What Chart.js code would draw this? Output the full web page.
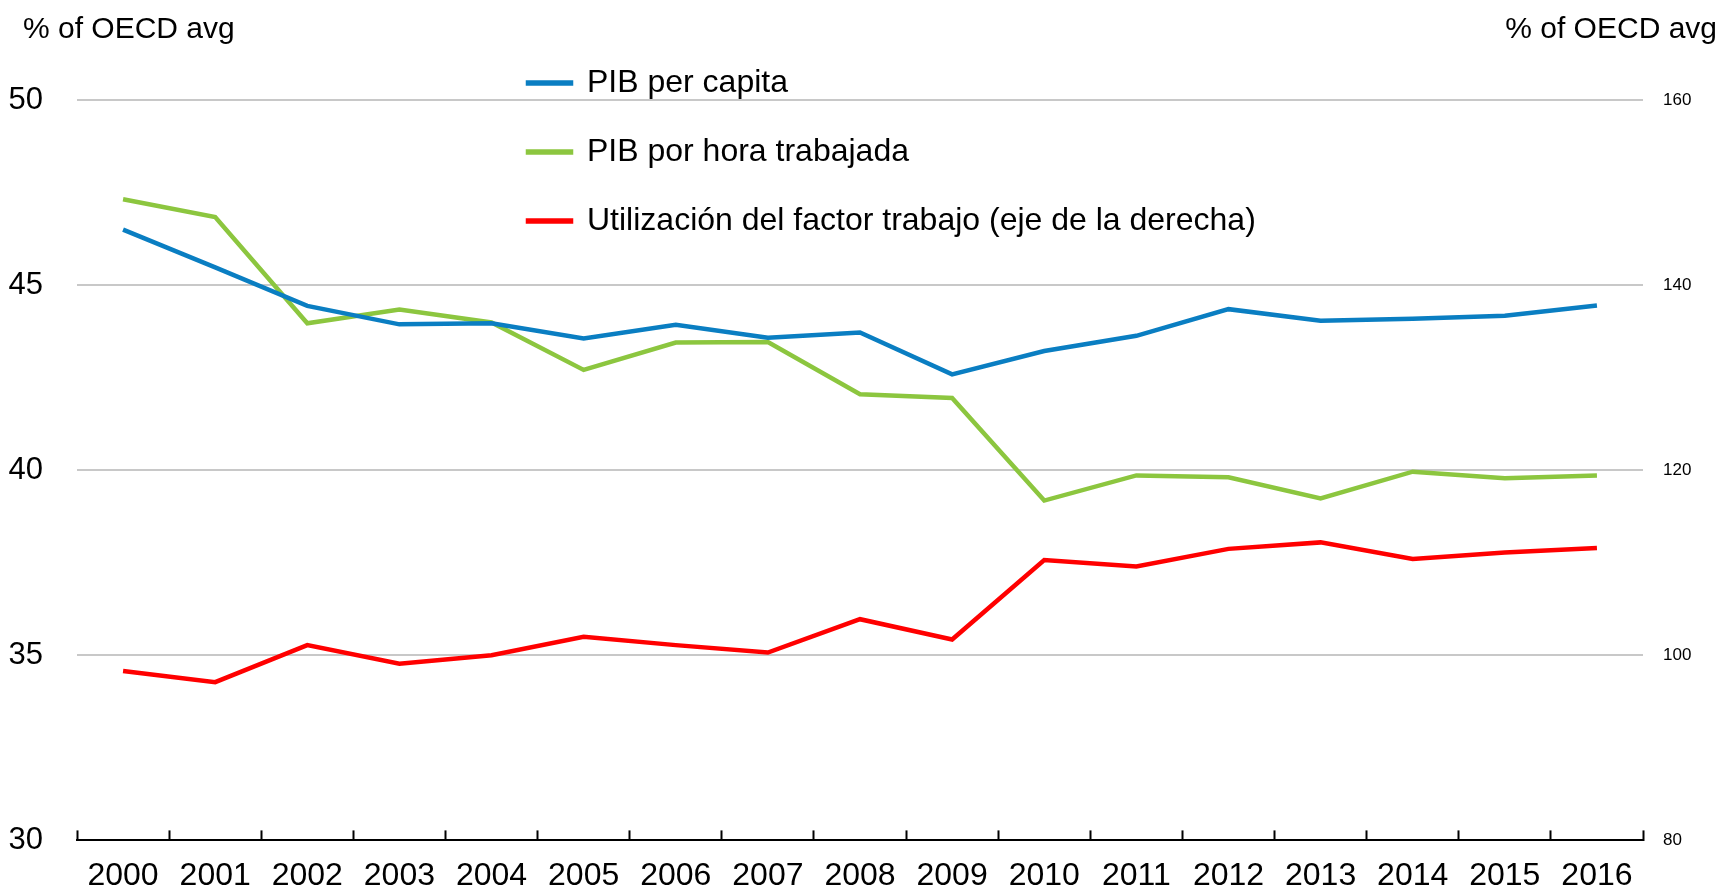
<!DOCTYPE html>
<html>
<head>
<meta charset="utf-8">
<script src="https://cdn.jsdelivr.net/npm/chart.js@4.4.1/dist/chart.umd.min.js"></script>
<style>
  html, body { margin: 0; padding: 0; background: #fff; }
  #wrap { position: relative; width: 1736px; height: 893px; }
</style>
</head>
<body>
<div id="wrap"><canvas id="myChart"></canvas></div>
<script>
let years = ['2000', '2001', '2002', '2003', '2004', '2005', '2006', '2007', '2008',
             '2009', '2010', '2011', '2012', '2013', '2014', '2015', '2016'];
let pibPerCapita = [46.50, 45.48, 44.44, 43.94, 43.97, 43.56, 43.93, 43.58, 43.72,
                    42.59, 43.22, 43.63, 44.35, 44.04, 44.09, 44.17, 44.45];
let pibPorHora = [47.32, 46.84, 43.97, 44.34, 43.99, 42.71, 43.45, 43.46, 42.05,
                  41.95, 39.18, 39.86, 39.81, 39.24, 39.96, 39.78, 39.86];
let utilizacion = [98.3, 97.1, 101.1, 99.1, 100.0, 102.0, 101.1, 100.3, 103.9,
                   101.7, 110.3, 109.6, 111.5, 112.2, 110.4, 111.1, 111.6];
let leftTicks = [30, 35, 40, 45, 50];
let rightTicks = [80, 100, 120, 140, 160];
let axisTitle = '% of OECD avg';

let fontFamily = "'Liberation Sans Narrow', 'Arial Narrow', 'Liberation Sans', Arial, sans-serif";
Chart.defaults.font.family = fontFamily;
Chart.defaults.color = '#000';

let blue = '#0a7ec2';
let green = '#8cc63f';
let red = '#ff0000';

// titles above both axes, legend moved into the plot
let extras = {
    id: 'extras',
    afterLayout(chart) {
        let lg = chart.legend;
        let area = chart.chartArea;
        let w = lg.width, h = lg.height;
        lg.left = area.left + 414;
        lg.right = lg.left + w;
        lg.top = 30;
        lg.bottom = lg.top + h;
    },
    afterDraw(chart) {
        let c = chart.ctx;
        c.save();
        c.fillStyle = '#000';
        c.font = '30px ' + fontFamily;
        c.textBaseline = 'alphabetic';
        c.textAlign = 'left';
        c.fillText(axisTitle, 23, 38);
        c.textAlign = 'right';
        c.fillText(axisTitle, 1717, 38);
        c.restore();
    }
};

let ctx = document.getElementById('myChart').getContext('2d');
let chart = new Chart(ctx, {
    type: 'line',
    data: {
        labels: years,
        datasets: [{
            label: 'PIB per capita',
            data: pibPerCapita,
            borderColor: blue,
            backgroundColor: blue,
            borderWidth: 4.5,
            yAxisID: 'y'
        }, {
            label: 'PIB por hora trabajada',
            data: pibPorHora,
            borderColor: green,
            backgroundColor: green,
            borderWidth: 4.5,
            yAxisID: 'y'
        }, {
            label: 'Utilización del factor trabajo (eje de la derecha)',
            data: utilizacion,
            borderColor: red,
            backgroundColor: red,
            borderWidth: 4.5,
            yAxisID: 'y1'
        }]
    },
    options: {
        responsive: true,
        maintainAspectRatio: false,
        animation: false,
        layout: { padding: { top: 100, left: 0, right: 0, bottom: 0 } },
        elements: { point: { radius: 0 }, line: { tension: 0 } },
        plugins: {
            legend: {
                position: 'chartArea',
                align: 'start',
                labels: {
                    font: { size: 32 },
                    boxWidth: 43,
                    boxHeight: 1,
                    padding: 37,
                    color: '#000'
                }
            },
            tooltip: { enabled: false }
        },
        scales: {
            x: {
                offset: true,
                grid: {
                    offset: true,
                    drawOnChartArea: false,
                    drawTicks: true,
                    tickLength: -10,
                    tickColor: '#000',
                    tickWidth: 2
                },
                border: { display: true, color: '#000', width: 2 },
                ticks: { font: { size: 32 }, padding: 27, maxRotation: 0, autoSkip: false },
                afterFit(scale) { scale.height = 51; }
            },
            y: {
                position: 'left',
                min: leftTicks[0],
                max: leftTicks[leftTicks.length - 1],
                afterBuildTicks(scale) { scale.ticks = leftTicks.map(v => ({ value: v })); },
                grid: { color: '#c8c8c8', lineWidth: 2, drawTicks: false },
                border: { display: false },
                ticks: { font: { size: 31 }, padding: 34 },
                afterFit(scale) { scale.width = 77; }
            },
            y1: {
                position: 'right',
                min: rightTicks[0],
                max: rightTicks[rightTicks.length - 1],
                afterBuildTicks(scale) { scale.ticks = rightTicks.map(v => ({ value: v })); },
                grid: { drawOnChartArea: false, drawTicks: false },
                border: { display: false },
                ticks: { font: { size: 17 }, padding: 20 },
                afterFit(scale) { scale.width = 93; }
            }
        }
    },
    plugins: [extras]
});
</script>
</body>
</html>
